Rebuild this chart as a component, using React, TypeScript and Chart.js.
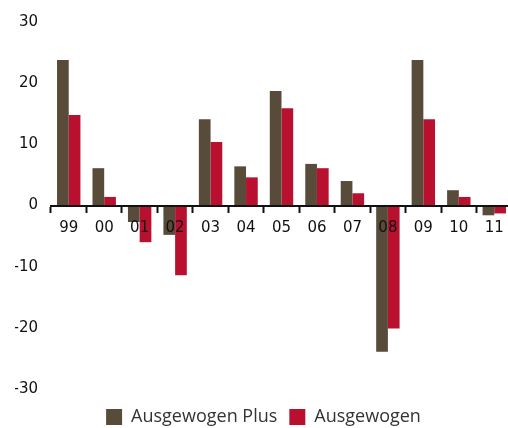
import React, { useEffect, useRef } from "react";
import { Chart, registerables } from "chart.js";

Chart.register(...registerables);

const categories = ["99", "00", "01", "02", "03", "04", "05", "06", "07", "08", "09", "10", "11"];
const ausgewogenPlus = [23.8, 6.1, -2.7, -4.8, 14.1, 6.4, 18.7, 6.8, 4.0, -23.9, 23.8, 2.5, -1.6];
const ausgewogen = [14.8, 1.4, -6.0, -11.4, 10.4, 4.6, 15.9, 6.1, 2.0, -20.1, 14.1, 1.4, -1.3];
const seriesNames = ["Ausgewogen Plus", "Ausgewogen"];
const yMin = -30;
const yMax = 30;
const yStep = 10;

export default function App() {
  const ref = useRef<HTMLCanvasElement | null>(null);
  useEffect(() => {
    if (!ref.current) return;
    const chart = new Chart(ref.current, {
      type: "bar",
      data: {
        labels: categories,
        datasets: [
          { label: seriesNames[0], data: ausgewogenPlus, backgroundColor: "#584B39", borderWidth: 0 },
          { label: seriesNames[1], data: ausgewogen, backgroundColor: "#BA102F", borderWidth: 0 },
        ],
      },
      options: {
        animation: false,
        responsive: false,
        maintainAspectRatio: false,
        layout: { padding: { top: 13, right: 15, left: 15, bottom: 0 } },
        datasets: { bar: { barPercentage: 1, categoryPercentage: 0.66 } },
        plugins: {
          tooltip: { enabled: false },
          legend: {
            position: "bottom",
            title: { display: true, text: "", padding: 0, font: { size: 7, lineHeight: 1 } },
            labels: {
              boxWidth: 16,
              boxHeight: 16,
              padding: 12,
              color: "#333",
              font: { family: "Open Sans", size: 18 },
            },
          },
        },
        scales: {
          x: {
            position: { y: 0 },
            grid: {
              display: true,
              drawOnChartArea: false,
              drawTicks: true,
              tickLength: 6,
              tickWidth: 2,
              tickColor: "#111",
              offset: true,
              z: 1,
            },
            border: { display: true, color: "#111", width: 2, z: 1 },
            ticks: {
              color: "#111",
              padding: 8,
              z: 1,
              font: { family: "DejaVu Sans", size: 15 },
              maxRotation: 0,
              autoSkip: false,
            },
          },
          y: {
            min: yMin,
            max: yMax,
            grid: { display: false, drawTicks: false },
            border: { display: false },
            afterFit: (s: any) => {
              s.width = 36;
            },
            ticks: {
              stepSize: yStep,
              color: "#111",
              padding: 13,
              font: { family: "DejaVu Sans", size: 15 },
            },
          },
        },
      },
    });
    return () => chart.destroy();
  }, []);
  return (
    <div style={{ position: "fixed", left: 0, top: 0, width: 508, height: 428, overflow: "hidden", background: "#fff" }}>
      <canvas ref={ref} width={527} height={436} style={{ display: "block", width: 527, height: 436 }} />
    </div>
  );
}
